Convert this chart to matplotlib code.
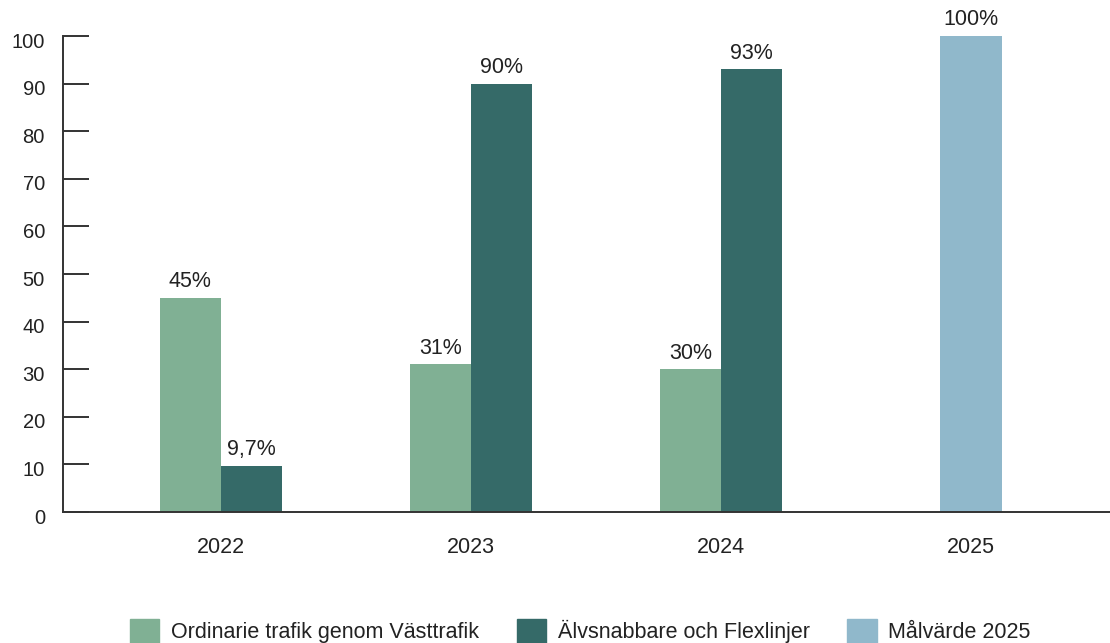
import matplotlib.pyplot as plt
import matplotlib.transforms as mtrans
from matplotlib.patches import Patch
import numpy as np

plt.rcParams['font.family'] = ['Liberation Sans', 'DejaVu Sans']

years = ['2022', '2023', '2024', '2025']
ordinarie = [45, 31, 30]
alvsnabbare = [9.7, 90, 93]
malvarde = [100]
ordinarie_labels = ['45%', '31%', '30%']
alvsnabbare_labels = ['9,7%', '90%', '93%']
malvarde_labels = ['100%']
legend_names = ['Ordinarie trafik genom Västtrafik',
                'Älvsnabbare och Flexlinjer',
                'Målvärde 2025']

c_light = '#80b094'
c_dark = '#356a68'
c_blue = '#90b8cb'
txt = '#222222'
w = 0.245

fig = plt.figure(figsize=(11.10, 6.43), dpi=100)
ax = fig.add_axes([0.0568, 0.2037, 0.9432, 0.7403])

x = np.arange(len(years))
b1 = ax.bar(x[:3] - w / 2, ordinarie, w, color=c_light)
b2 = ax.bar(x[:3] + w / 2, alvsnabbare, w, color=c_dark)
b3 = ax.bar(x[3:], malvarde, w, color=c_blue)

for bars, labels in [(b1, ordinarie_labels), (b2, alvsnabbare_labels),
                     (b3, malvarde_labels)]:
    for bar, lab in zip(bars, labels):
        ax.annotate(lab, (bar.get_x() + bar.get_width() / 2, bar.get_height()),
                    xytext=(0, 4), textcoords='offset points',
                    ha='center', va='bottom', fontsize=15.5, color=txt)

ax.set_xlim(-0.632, 3.556)
ax.set_ylim(0, 100)
ax.set_yticks(range(0, 101, 10))
ax.set_xticks(x)
ax.set_xticklabels(years)

for s in ['top', 'right']:
    ax.spines[s].set_visible(False)
for s in ['left', 'bottom']:
    ax.spines[s].set_color('#333333')
    ax.spines[s].set_linewidth(1.4)

ax.tick_params(axis='y', direction='in', length=19, width=1.4,
               color='#333333', pad=13, labelsize=14.5, labelcolor=txt)
ax.tick_params(axis='x', length=0, pad=18, labelsize=15.5, labelcolor=txt)

# the value labels on the y axis sit a little below their ticks
shift = mtrans.ScaledTranslation(0, -4 / 100, fig.dpi_scale_trans)
for lbl in ax.get_yticklabels():
    lbl.set_transform(lbl.get_transform() + shift)

handles = [Patch(color=c_light), Patch(color=c_dark), Patch(color=c_blue)]
fig.legend(handles, legend_names, loc='center', bbox_to_anchor=(0.523, 0.018),
           ncol=3, frameon=False, fontsize=15.5, handlelength=1.35,
           handleheight=1.3, handletextpad=0.55, columnspacing=1.75,
           labelcolor=txt)

fig.savefig('out.png', dpi=100)
